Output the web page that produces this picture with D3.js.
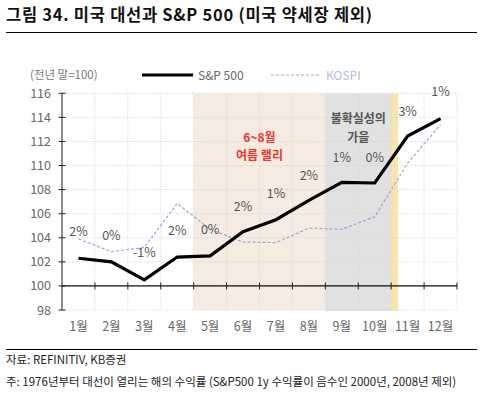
<!DOCTYPE html>
<html>
<head>
<meta charset="utf-8">
<script src="https://d3js.org/d3.v7.min.js"></script>
<style>
  body { margin: 0; background: #fff; font-family: 'Noto Sans CJK KR', 'Noto Sans', sans-serif; }
  svg { display: block; }
</style>
</head>
<body>
<svg id="chart" width="484" height="394"></svg>
<script>
// data
var months = ["1월","2월","3월","4월","5월","6월","7월","8월","9월","10월","11월","12월"];
var spx   = [102.3, 102.0, 100.5, 102.4, 102.5, 104.5, 105.5, 107.1, 108.6, 108.55, 112.45, 113.9];
var kospi = [103.9, 102.85, 103.2, 106.85, 104.7, 103.65, 103.6, 104.8, 104.7, 105.75, 110.2, 113.4];
var pctLabels = ["2%","0%","-1%","2%","0%","2%","1%","2%","1%","0%","3%","1%"];
var pctY = [104.15, 103.85, 102.4, 104.2, 104.3, 106.25, 107.3, 108.8, 110.3, 110.3, 114.1, 115.8];
var yTicks = [98,100,102,104,106,108,110,112,114,116];

var svg = d3.select("#chart");
var font = "'Noto Sans CJK KR', 'Noto Sans', sans-serif";

// title
svg.append("text").attr("x", 6).attr("y", 21)
  .attr("font-size", 16.5).attr("font-weight", "bold").attr("fill", "#111")
  .attr("font-family", font)
  .attr("textLength", 366).attr("lengthAdjust", "spacing")
  .text("그림 34. 미국 대선과 S&P 500 (미국 약세장 제외)");
svg.append("line").attr("x1", 6).attr("x2", 477).attr("y1", 32.5).attr("y2", 32.5)
  .attr("stroke", "#000").attr("stroke-width", 1);

var plotLeft = 62, plotRight = 457, plotTop = 93.3, plotBottom = 310;
var x = d3.scaleBand().domain(months).range([plotLeft, plotRight]);
var y = d3.scaleLinear().domain([98, 116]).range([plotBottom, plotTop]);
var cx = function(m) { return x(m) + x.bandwidth() / 2; };
var edge = function(d) { return d == "end" ? plotRight : x(d); };

var g = svg.append("g");

// shaded periods
g.append("rect").attr("x", x("5월")).attr("width", x("9월") - x("5월"))
  .attr("y", y(116)).attr("height", y(98) - y(116)).attr("fill", "#f6ebe1");
g.append("rect").attr("x", x("9월")).attr("width", x("11월") - x("9월"))
  .attr("y", y(116)).attr("height", y(98) - y(116) + 1).attr("fill", "#e1e1e1");
g.append("rect").attr("x", x("11월")).attr("width", 7)
  .attr("y", y(116)).attr("height", y(98) - y(116) + 1).attr("fill", "#f7e6a8");

// grid
g.selectAll(".hgrid").data(yTicks).enter().append("line")
  .attr("x1", plotLeft).attr("x2", plotRight)
  .attr("y1", function(d) { return y(d); }).attr("y2", function(d) { return y(d); })
  .attr("stroke", "#d4d4d4").attr("stroke-dasharray", "1 1.5");
g.selectAll(".vgrid").data(months.slice(1).concat(["end"])).enter().append("line")
  .attr("x1", edge).attr("x2", edge)
  .attr("y1", y(116)).attr("y2", y(98))
  .attr("stroke", "#d4d4d4").attr("stroke-dasharray", "1 1.5");

// y axis
g.append("line").attr("x1", plotLeft).attr("x2", plotLeft).attr("y1", y(116)).attr("y2", y(98))
  .attr("stroke", "#666").attr("stroke-width", 1.5);
g.selectAll(".ytick").data(yTicks).enter().append("line")
  .attr("x1", plotLeft - 3.5).attr("x2", plotLeft + 3.5)
  .attr("y1", function(d) { return y(d); }).attr("y2", function(d) { return y(d); })
  .attr("stroke", "#222");
g.selectAll(".ylab").data(yTicks).enter().append("text")
  .attr("x", 51).attr("y", function(d) { return y(d) + 4.5; })
  .attr("text-anchor", "end").attr("font-size", 12.5).attr("fill", "#666")
  .attr("font-family", font)
  .text(function(d) { return d; });

// x axis at 100
g.append("line").attr("x1", plotLeft).attr("x2", plotRight).attr("y1", y(100)).attr("y2", y(100))
  .attr("stroke", "#111").attr("stroke-width", 1.2);
g.selectAll(".xtick").data(months.slice(1).concat(["end"])).enter().append("line")
  .attr("x1", edge).attr("x2", edge)
  .attr("y1", y(100) - 3.5).attr("y2", y(100) + 3.5)
  .attr("stroke", "#222");
g.selectAll(".xlab").data(months).enter().append("text")
  .attr("x", function(d) { return cx(d); }).attr("y", 331)
  .attr("text-anchor", "middle").attr("font-size", 12.5).attr("fill", "#666")
  .attr("font-family", font)
  .text(function(d) { return d; });

// lines
var line = function(vals) {
  return d3.line().x(function(d, i) { return cx(months[i]); }).y(function(d) { return y(d); })(vals);
};
g.append("path").attr("d", line(kospi)).attr("fill", "none")
  .attr("stroke", "#97a5d8").attr("stroke-width", 1.2).attr("stroke-dasharray", "3 2");
g.append("path").attr("d", line(spx)).attr("fill", "none")
  .attr("stroke", "#000").attr("stroke-width", 3.2);

// percent labels
g.selectAll(".pct").data(pctLabels).enter().append("text")
  .attr("x", function(d, i) { return cx(months[i]); })
  .attr("y", function(d, i) { return y(pctY[i]); })
  .attr("text-anchor", "middle").attr("font-size", 12.5).attr("fill", "#555")
  .attr("font-family", font)
  .text(function(d) { return d; });

// annotations
g.append("text").attr("x", x("7월")).attr("y", 142).attr("text-anchor", "middle")
  .attr("font-size", 12).attr("font-weight", "bold").attr("fill", "#e8382d")
  .attr("font-family", font).text("6~8월");
g.append("text").attr("x", x("7월")).attr("y", 160).attr("text-anchor", "middle")
  .attr("font-size", 12).attr("font-weight", "bold").attr("fill", "#e8382d")
  .attr("font-family", font).text("여름 랠리");
g.append("text").attr("x", x("10월")).attr("y", 123).attr("text-anchor", "middle")
  .attr("font-size", 12).attr("font-weight", "bold").attr("fill", "#555")
  .attr("font-family", font).text("불확실성의");
g.append("text").attr("x", x("10월")).attr("y", 142).attr("text-anchor", "middle")
  .attr("font-size", 12).attr("font-weight", "bold").attr("fill", "#555")
  .attr("font-family", font).text("가을");

// legend
svg.append("text").attr("x", 30).attr("y", 79).attr("font-size", 11.5).attr("fill", "#777")
  .attr("font-family", font).text("(전년 말=100)");
svg.append("line").attr("x1", 142).attr("x2", 193).attr("y1", 75).attr("y2", 75)
  .attr("stroke", "#000").attr("stroke-width", 3.2);
svg.append("text").attr("x", 198).attr("y", 79.5).attr("font-size", 12).attr("fill", "#666")
  .attr("font-family", font).text("S&P 500");
svg.append("line").attr("x1", 271).attr("x2", 319).attr("y1", 75).attr("y2", 75)
  .attr("stroke", "#97a5d8").attr("stroke-width", 1.2).attr("stroke-dasharray", "3 2");
svg.append("text").attr("x", 326).attr("y", 79.5).attr("font-size", 12).attr("fill", "#b4bde0")
  .attr("font-family", font).text("KOSPI");

// footer
svg.append("line").attr("x1", 6).attr("x2", 477).attr("y1", 349.5).attr("y2", 349.5)
  .attr("stroke", "#000").attr("stroke-width", 1);
svg.append("text").attr("x", 6).attr("y", 364).attr("font-size", 11.5).attr("fill", "#222")
  .attr("font-family", font).text("자료: REFINITIV, KB증권");
svg.append("text").attr("x", 6).attr("y", 386).attr("font-size", 11.5).attr("fill", "#222")
  .attr("font-family", font).text("주: 1976년부터 대선이 열리는 해의 수익률 (S&P500 1y 수익률이 음수인 2000년, 2008년 제외)");
</script>
</body>
</html>
